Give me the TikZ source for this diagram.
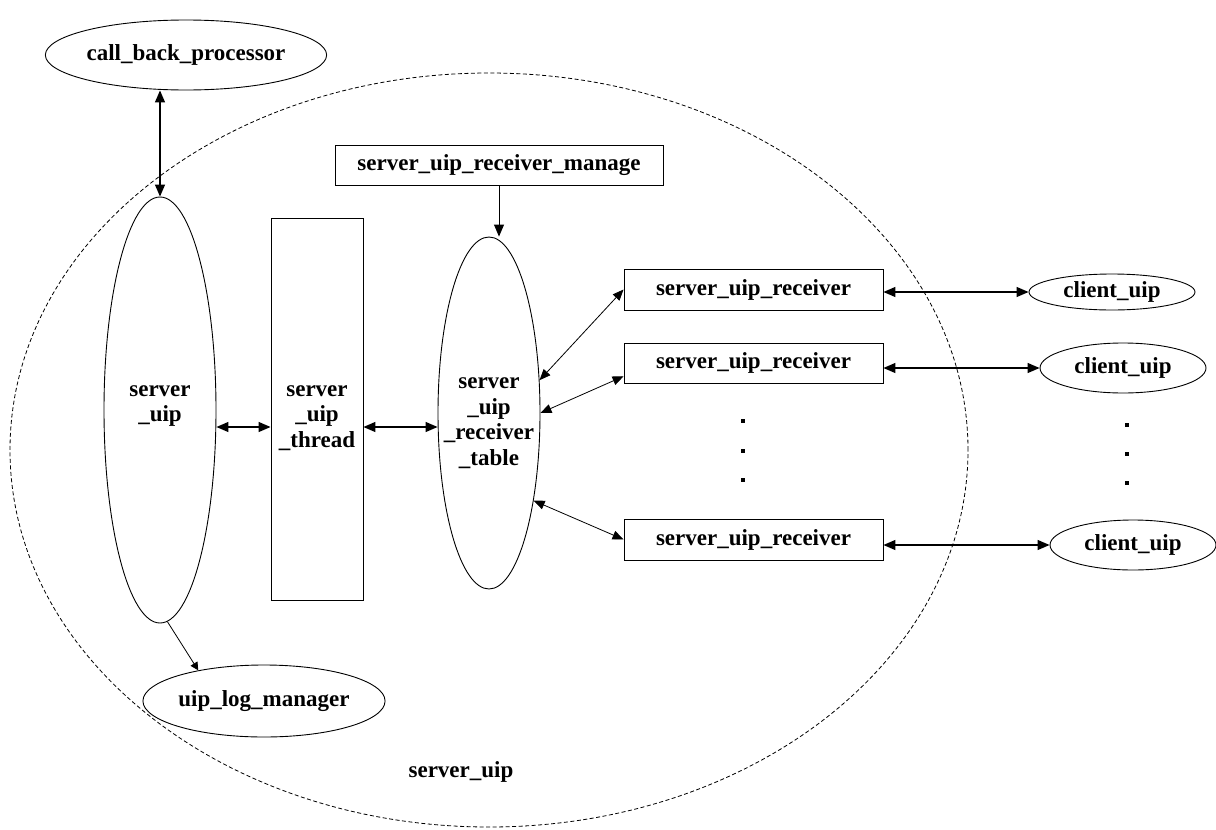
\documentclass[tikz,border=0pt]{standalone}
\usepackage{fontspec}
\setmainfont{Liberation Serif}
\usetikzlibrary{arrows.meta,shapes.geometric,calc}
\begin{document}
\begin{tikzpicture}[x=1pt,y=-1pt,
  txt/.style={font=\fontsize{23}{25.5}\selectfont\bfseries, align=center},
  ell/.style={txt, draw, ellipse, inner sep=0pt, line width=0.9pt, fill=white},
  box/.style={txt, draw, rectangle, inner sep=0pt, line width=0.9pt, fill=white},
  big/.style={draw, ellipse, inner sep=0pt, line width=0.8pt, dash pattern=on 4pt off 2.5pt},
  arrB/.style={{Triangle[length=12pt,width=10pt]}-{Triangle[length=12pt,width=10pt]}, line width=1.3pt},
  arrT/.style={{Triangle[length=11pt,width=9pt]}-{Triangle[length=11pt,width=9pt]}, line width=0.8pt},
  arrD/.style={-{Triangle[length=12pt,width=10pt]}, line width=0.9pt},
  arrS/.style={-{Triangle[length=8pt,width=8pt]}, line width=0.8pt},
  dot/.style={fill=black, inner sep=0pt, minimum size=4pt, rectangle}
]
\path[use as bounding box] (0,0) rectangle (1216,830);

% outer dashed ellipse
\node[big, minimum width=958pt, minimum height=754pt] (outer) at (489,450) {};
\node[txt] (lblouter) at (461,772) {server\_uip};

% nodes
\node[ell, minimum width=268pt, minimum height=70pt] (cb) at (186,55) {call\_back\_processor};
\node[ell, minimum width=112pt, minimum height=426pt] (su) at (160,410) {};
\node[txt] (suT) at ($(su)+(0,-4)$) {server\\\_uip};
\node[box, minimum width=92pt, minimum height=382pt] (th) at (317,409) {};
\node[txt] (thT) at ($(th)+(0,9)$) {server\\\_uip\\\_thread};
\node[box, minimum width=328pt, minimum height=40pt] (mg) at (499,165) {server\_uip\_receiver\_manage};
\node[ell, minimum width=102pt, minimum height=352pt] (tb) at (489,413) {};
\node[txt] (tbT) at ($(tb)+(0,10)$) {server\\\_uip\\\_receiver\\\_table};
\node[box, minimum width=259pt, minimum height=41pt] (rc1) at (753.5,289.5) {server\_uip\_receiver};
\node[box, minimum width=259pt, minimum height=40pt] (rc2) at (753.5,363) {server\_uip\_receiver};
\node[box, minimum width=259pt, minimum height=41pt] (rc3) at (753.5,539.5) {server\_uip\_receiver};
\node[ell, minimum width=166pt, minimum height=36pt] (cl1) at (1112,292) {client\_uip};
\node[ell, minimum width=166pt, minimum height=50pt] (cl2) at (1123,368) {client\_uip};
\node[ell, minimum width=166pt, minimum height=50pt] (cl3) at (1133,545) {client\_uip};
\node[ell, minimum width=196pt, minimum height=72pt] (lg) at (264,701) {uip\_log\_manager};

% dots
\node[dot] (d1) at (743,421) {};
\node[dot] (d2) at (743,451) {};
\node[dot] (d3) at (743,480) {};
\node[dot] (e1) at (1127,425) {};
\node[dot] (e2) at (1127,454) {};
\node[dot] (e3) at (1127,483) {};

% connectors
\coordinate (mid) at (0,427);
\draw[arrB] (su.north |- cb.south) -- (su.north);
\draw[arrB] (su.east |- mid) -- (th.west |- mid);
\draw[arrB] (th.east |- mid) -- (tb.west |- mid);
\draw[arrD] (mg.south) -- (mg.south |- tb.north);
\draw[arrT] (tb.33) -- (rc1.west);
\draw[arrT] (tb.east) -- ($(rc2.west)!0.65!(rc2.south west)$);
\draw[arrT] (tb.-63) -- (rc3.west);
\draw[arrB] (rc1.east |- cl1.west) -- (cl1.west);
\draw[arrB] (rc2.east |- cl2.west) -- (cl2.west);
\draw[arrB] (rc3.east |- cl3.west) -- (cl3.west);
\draw[arrS] (su.-88) -- (lg.155);
\end{tikzpicture}
\end{document}
